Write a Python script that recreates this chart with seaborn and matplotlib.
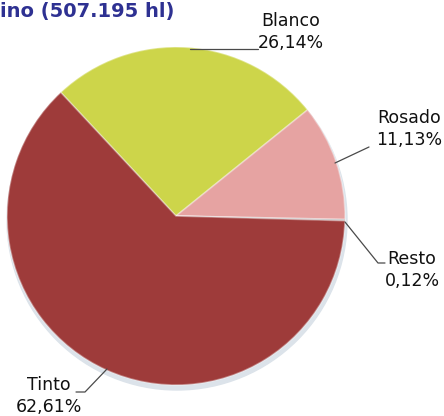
import matplotlib
matplotlib.use("Agg")
import matplotlib.pyplot as plt
import seaborn as sns
from matplotlib.patches import Circle

# data
categories = ["Blanco", "Rosado", "Resto", "Tinto"]
shares = [26.14, 11.13, 0.12, 62.61]
share_labels = ["26,14%", "11,13%", "0,12%", "62,61%"]
colors = ["#CDD54A", "#E6A3A2", "#9C9C9C", "#9E3B3A"]
title = "ino (507.195 hl)"

sns.set_theme(style="white")
plt.rcParams['font.family'] = ['DejaVu Sans']

W, H = 444, 416
fig = plt.figure(figsize=(W / 100, H / 100), dpi=100)
ax = fig.add_axes([0, 0, 1, 1])
ax.set_aspect('equal')

cx, cy, r = 176, H - 216, 169

# soft shadow under the pie
ax.add_patch(Circle((cx + 1, cy - 4), r + 1, color="#DCE3EA", zorder=0))

wedges, _ = ax.pie(
    shares,
    colors=colors,
    startangle=133,
    counterclock=False,
    center=(cx, cy),
    radius=r,
    frame=True,
    wedgeprops=dict(edgecolor=(1, 1, 1, 0.35), linewidth=1.2),
)
ax.set_xlim(0, W)
ax.set_ylim(0, H)
ax.axis('off')

def y(v):
    return H - v

# leader lines (image pixel coords)
lines = {
    "Blanco": [(190, 49), (258, 49)],
    "Rosado": [(335, 163), (369, 147)],
    "Resto": [(345, 222), (378, 263), (385, 263)],
    "Tinto": [(107, 369), (85, 392), (76, 392)],
}
text_pos = {
    "Blanco": (291, 32),
    "Rosado": (409, 129),
    "Resto": (412, 270),
    "Tinto": (49, 396),
}

for cat, lab in zip(categories, share_labels):
    pts = lines[cat]
    ax.plot([p[0] for p in pts], [y(p[1]) for p in pts], color="#4A4A4A", lw=0.9)
    tx, ty = text_pos[cat]
    ax.text(tx, y(ty), f"{cat}\n{lab}", ha='center', va='center',
            fontsize=12.5, color="#111111", linespacing=1.25)

ax.text(0, y(11), title, ha='left', va='center', fontsize=14,
        fontweight='bold', color="#2E3192")

fig.savefig("out.png", dpi=100)
